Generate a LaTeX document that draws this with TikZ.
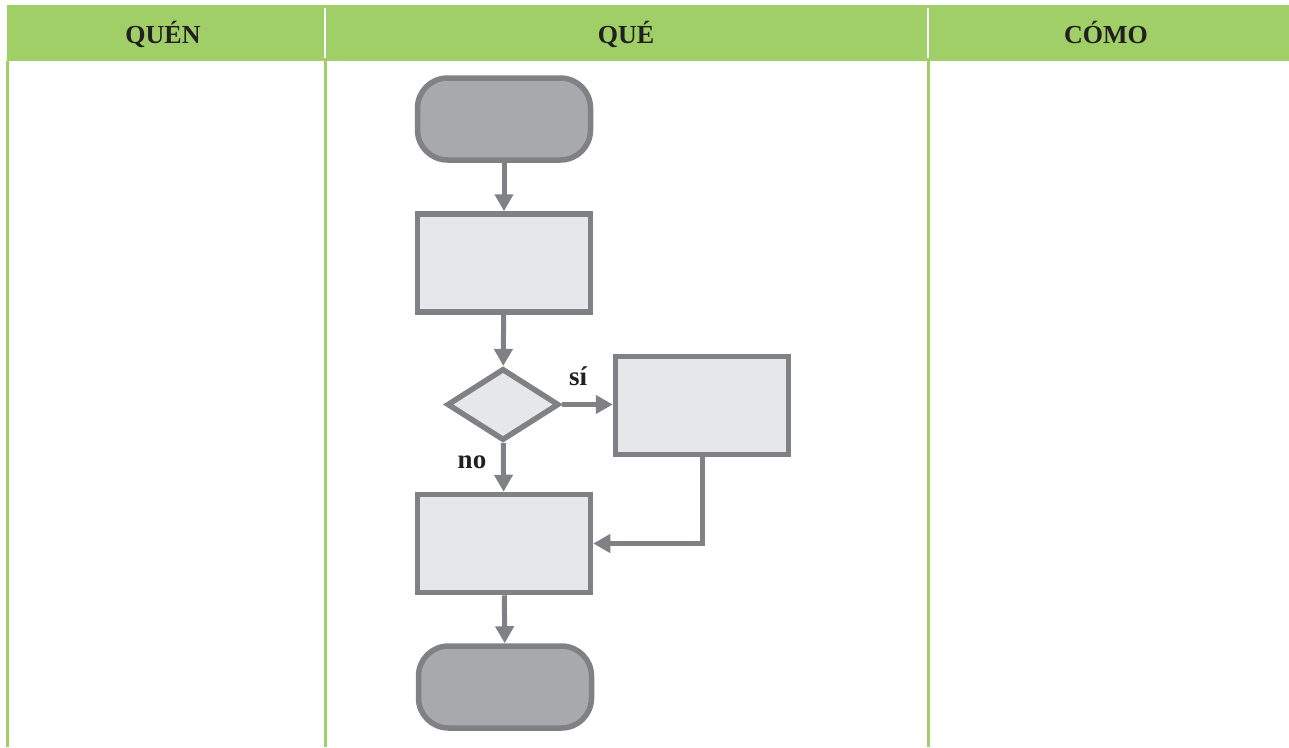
\documentclass[tikz,border=0pt]{standalone}
\usepackage{fontspec}
\setmainfont{Liberation Serif}
\usetikzlibrary{arrows.meta,shapes.geometric}

\definecolor{bandgreen}{HTML}{A0CF67}
\definecolor{edgegray}{HTML}{808184}
\definecolor{darkfill}{HTML}{A7A9AC}
\definecolor{lightfill}{HTML}{E6E7E8}
\definecolor{inkdark}{HTML}{231F20}

\tikzset{
  terminal/.style={draw=edgegray, fill=darkfill, line width=5.5pt, rounded corners=30pt,
    minimum width=173pt, minimum height=82pt, inner sep=0pt},
  process/.style={draw=edgegray, fill=lightfill, line width=5.5pt,
    minimum width=173pt, minimum height=98pt, inner sep=0pt},
  decision/.style={draw=edgegray, fill=lightfill, line width=5.5pt, diamond,
    minimum width=112pt, minimum height=72pt, inner sep=0pt},
  flow/.style={draw=edgegray, line width=5pt, -{Triangle[length=17pt,width=18pt]}},
  heading/.style={font=\fontsize{26}{30}\selectfont\bfseries, text=inkdark, anchor=base, inner sep=0pt},
  branch/.style={font=\fontsize{27}{30}\selectfont\bfseries, text=inkdark, anchor=base, inner sep=0pt},
  laneline/.style={draw=bandgreen, line width=3pt},
  bandgap/.style={draw=white, line width=2pt}
}

\begin{document}
\begin{tikzpicture}[x=1pt, y=-1pt]
  \useasboundingbox (0,0) rectangle (1289,747);

  % header band and column rules
  \fill[bandgreen] (7,5) rectangle (1289,61);
  \draw[bandgap] (325,8) -- (325,58);
  \draw[bandgap] (928,8) -- (928,58);
  \draw[laneline] (7.5,61) -- (7.5,747);
  \draw[laneline] (325.5,61) -- (325.5,747);
  \draw[laneline] (928.5,61) -- (928.5,747);

  \node[heading] (hquien) at (163,43.5) {QUÉN};
  \node[heading] (hque) at (626,43.5) {QUÉ};
  \node[heading] (hcomo) at (1106,43.5) {CÓMO};

  % flowchart
  \node[terminal] (start) at (504,119) {};
  \node[process] (step1) at (504,263) {};
  \node[decision] (check) at (503,404.5) {};
  \node[process] (yesbox) at (702,405.5) {};
  \node[process] (step2) at (504,543.5) {};
  \node[terminal] (finish) at (505,687) {};

  \draw[flow] (start) -- (step1);
  \draw[flow] (step1) -- (check);
  \draw[flow] (check.east) -- (yesbox.west |- check.east);
  \draw[flow] (check) -- (step2);
  \draw[flow] (yesbox.south) |- (step2.east);
  \draw[flow] (step2) -- (finish);

  \node[branch] (lblyes) at (578,385) {sí};
  \node[branch] (lblno) at (472,468) {no};
\end{tikzpicture}
\end{document}
